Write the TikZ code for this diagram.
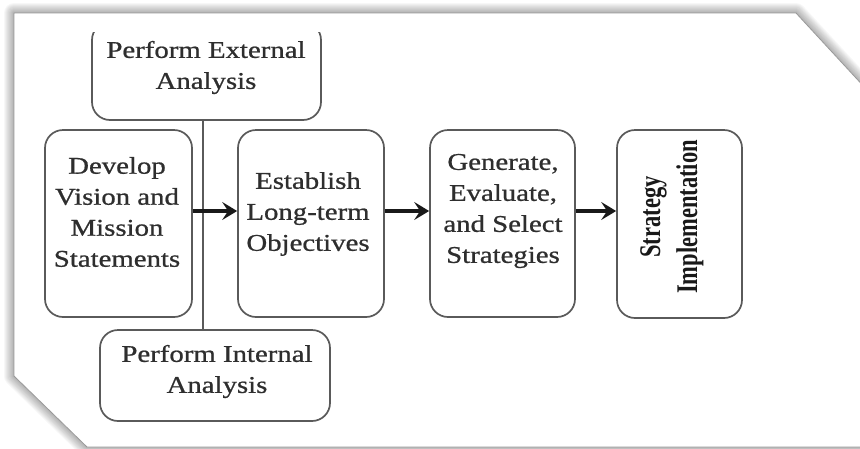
\documentclass[tikz,border=0pt]{standalone}
\usepackage{fontspec}
\setmainfont{Liberation Serif}[FakeStretch=1.2, FakeBold=0.8]
\newfontfamily\implfont{Liberation Serif}[FakeStretch=0.75]
\usetikzlibrary{arrows.meta}
\definecolor{boxline}{HTML}{5a5a5a}
\definecolor{inktext}{HTML}{2e2e2e}
\tikzset{
  stagebox/.style={draw=boxline, line width=1.7pt, rounded corners=18pt, fill=white,
    inner sep=0pt},
  stagetext/.style={text=inktext, align=center, inner sep=0pt,
    font=\fontsize{24}{31}\selectfont},
  flowarrow/.style={draw=black!90, line width=3.2pt,
    -{Stealth[length=15pt,width=18pt,inset=6pt]}},
  link/.style={line width=1.5pt, boxline},
}
\begin{document}
\begin{tikzpicture}[x=1pt,y=-1pt]
\useasboundingbox (0,0) rectangle (860,448);
\clip (0,0) rectangle (860,448);

% page frame with clipped corners and a soft shadow
\fill[white] (0,0) rectangle (860,448);
\def\framepath{(14,13) -- (796,13) -- (880,104) -- (880,447) -- (87,447) -- (14,376) -- cycle}
\foreach \w in {1,...,10}
  \draw[black, opacity=0.03, line width=2*\w pt, line join=round] \framepath;
\fill[white] \framepath;
\draw[black!40, line width=0.8pt] \framepath;

% stage boxes
\node[stagebox, minimum width=147pt, minimum height=187pt] (dev) at (118.5,223.5) {};
\node[stagebox, minimum width=146pt, minimum height=187pt] (est) at (311,223.5) {};
\node[stagebox, minimum width=145pt, minimum height=187pt] (gen) at (502.5,223.5) {};
\node[stagebox, minimum width=125pt, minimum height=188pt] (imp) at (679.5,224) {};
\begin{scope}
  \clip (0,32) rectangle (860,448);
  \node[stagebox, minimum width=229pt, minimum height=98pt] (ext) at (206.5,71) {};
\end{scope}
\node[stagebox, minimum width=230pt, minimum height=91pt] (int) at (215,375.5) {};

% box texts
\node[stagetext] (devtext) at (117,212) {Develop\\Vision and\\Mission\\Statements};
\node[stagetext] (esttext) at (308,214) {Establish\\Long-term\\Objectives};
\node[stagetext] (gentext) at (503,211) {Generate,\\Evaluate,\\and Select\\Strategies};
\node[stagetext] (exttext) at (206,67.5) {Perform External\\Analysis};
\node[stagetext] (inttext) at (217,371.5) {Perform Internal\\Analysis};
\node[text=black!90, align=center, inner sep=0pt, rotate=90,
      font=\implfont\bfseries\fontsize{30}{37}\selectfont]
      (imptext) at (672,217) {Strategy\\Implementation};

% analysis connector
\coordinate (vx) at (203,0);
\draw[link] (ext.south -| vx) -- (int.north -| vx);

% flow arrows
\coordinate (ay) at (0,211);
\draw[flowarrow] (dev.east |- ay) -- (est.west |- ay);
\draw[flowarrow] (est.east |- ay) -- (gen.west |- ay);
\draw[flowarrow] (gen.east |- ay) -- (imp.west |- ay);
\end{tikzpicture}
\end{document}
